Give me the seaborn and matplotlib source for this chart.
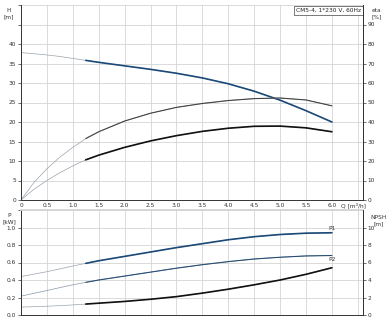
import matplotlib
matplotlib.use("Agg")
import matplotlib.pyplot as plt
import seaborn as sns
import pandas as pd
import numpy as np

# ---- data ----
Q = [0, 0.25, 0.5, 0.75, 1.0, 1.25, 1.5, 2.0, 2.5, 3.0, 3.5, 4.0, 4.5, 5.0, 5.5, 6.0]
H = [37.8, 37.5, 37.2, 36.8, 36.3, 35.8, 35.3, 34.4, 33.5, 32.5, 31.3, 29.8, 27.9, 25.6, 22.9, 20.0]
eta_pump = [0, 9, 16, 22, 27, 31.5, 35, 40.5, 44.5, 47.5, 49.5, 51, 52, 52.3, 51.3, 48.3]
eta_total = [0, 5.5, 10, 14, 17.5, 20.6, 23, 27, 30.3, 33, 35.2, 36.8, 37.8, 37.9, 37, 35]
P1 = [0.44, 0.467, 0.495, 0.527, 0.56, 0.59, 0.62, 0.67, 0.72, 0.77, 0.815, 0.86, 0.895, 0.92, 0.935, 0.94]
P2 = [0.215, 0.248, 0.28, 0.313, 0.345, 0.373, 0.4, 0.445, 0.49, 0.535, 0.575, 0.61, 0.64, 0.66, 0.675, 0.68]
NPSH = [0.9, 0.95, 1.0, 1.07, 1.15, 1.25, 1.35, 1.55, 1.8, 2.1, 2.5, 2.95, 3.45, 4.0, 4.65, 5.4]
q_start = 1.25
x_ticks = [0, 0.5, 1.0, 1.5, 2.0, 2.5, 3.0, 3.5, 4.0, 4.5, 5.0, 5.5, 6.0]
x_tick_labels = ["0", "0.5", "1.0", "1.5", "2.0", "2.5", "3.0", "3.5", "4.0", "4.5", "5.0", "5.5", "6.0"]
title_text = "CM5-4, 1*230 V, 60Hz"

sns.set_theme(style="white")
plt.rcParams['font.family'] = ['DejaVu Sans']
FS = 4.2

df = pd.DataFrame({"Q": Q, "H": H, "eta_h": np.array(eta_pump) / 2.0,
                   "etat_h": np.array(eta_total) / 2.0, "P1": P1, "P2": P2,
                   "NPSH_p": np.array(NPSH) / 10.0})
op = df[df["Q"] >= q_start]

fig = plt.figure(figsize=(3.86, 3.2), dpi=100)
ax1 = fig.add_axes([21/386, 1-200/320, (363-21)/386, 195/320])
ax2 = fig.add_axes([21/386, 5/320, (363-21)/386, 105/320])

GRID = "#d4d4d4"
THIN = "#9aa3ad"
BLUE = "#1b4a78"
DARK = "#111111"

for ax in (ax1, ax2):
    ax.set_xlim(0, 6.6)
    ax.set_xticks(list(x_ticks) + [6.5])
    ax.grid(True, color=GRID, lw=0.6)
    ax.set_axisbelow(True)
    for s in ["left", "right", "bottom"]:
        ax.spines[s].set_color("#333333")
        ax.spines[s].set_linewidth(0.7)
    ax.spines["top"].set_visible(False)
    ax.tick_params(axis="both", labelsize=FS, length=2, width=0.5, pad=1.5, colors="#333333")

# top panel
sns.lineplot(data=df, x="Q", y="H", ax=ax1, color=THIN, lw=0.5)
sns.lineplot(data=op, x="Q", y="H", ax=ax1, color=BLUE, lw=1.2)
sns.lineplot(data=df, x="Q", y="eta_h", ax=ax1, color=THIN, lw=0.5)
sns.lineplot(data=op, x="Q", y="eta_h", ax=ax1, color="#444444", lw=0.8)
sns.lineplot(data=df, x="Q", y="etat_h", ax=ax1, color=THIN, lw=0.5)
sns.lineplot(data=op, x="Q", y="etat_h", ax=ax1, color=DARK, lw=1.2)
ax1.set_ylim(0, 50)
ax1.set_yticks(range(0, 55, 5))
ax1.set_yticklabels([str(v) if v <= 40 else "" for v in range(0, 55, 5)])
ax1.set_xticklabels(x_tick_labels + [""])
ax1.tick_params(axis="x", length=0, pad=2)
ax1.set_xlabel(""); ax1.set_ylabel("")
for t in ax1.get_yticklines()[-4:]:
    t.set_visible(False)

r1 = ax1.twinx()
r1.set_ylim(0, 100)
r1.set_yticks(range(0, 100, 10))
r1.tick_params(axis="y", labelsize=FS, length=2, width=0.5, pad=1.5, colors="#333333")
for s in r1.spines.values():
    s.set_visible(False)
r1.spines["right"].set_visible(True)
r1.spines["right"].set_color("#333333")
r1.spines["right"].set_linewidth(0.7)
r1.grid(False)

ax1.text(-0.035, 0.985, "H\n[m]", transform=ax1.transAxes, fontsize=FS, ha="center", va="top", color="#333333", linespacing=1.3)
r1.text(1.04, 0.985, "eta\n[%]", transform=r1.transAxes, fontsize=FS, ha="center", va="top", color="#333333", linespacing=1.3)
ax1.text(0.995, 0.985, title_text, transform=ax1.transAxes, fontsize=FS, ha="right", va="top", color="#222222",
         bbox=dict(boxstyle="square,pad=0.3", fc="white", ec="#444444", lw=0.5))
fig.text(341/386, 1-203/320, "Q [m³/h]", fontsize=FS, ha="left", va="top", color="#333333", zorder=10)

# bottom panel
sns.lineplot(data=df, x="Q", y="P1", ax=ax2, color=THIN, lw=0.5)
sns.lineplot(data=op, x="Q", y="P1", ax=ax2, color=BLUE, lw=1.2)
sns.lineplot(data=df, x="Q", y="P2", ax=ax2, color="#8797aa", lw=0.5)
sns.lineplot(data=op, x="Q", y="P2", ax=ax2, color="#2a4f75", lw=0.8)
sns.lineplot(data=df, x="Q", y="NPSH_p", ax=ax2, color=THIN, lw=0.5)
sns.lineplot(data=op, x="Q", y="NPSH_p", ax=ax2, color=DARK, lw=1.2)
ax2.set_ylim(0, 1.2)
ax2.set_yticks([0, 0.2, 0.4, 0.6, 0.8, 1.0, 1.2])
ax2.set_yticklabels(["0.0", "0.2", "0.4", "0.6", "0.8", "1.0", ""])
ax2.set_xticklabels([])
ax2.tick_params(axis="x", length=0)
ax2.spines["top"].set_visible(True)
ax2.spines["top"].set_color(GRID)
ax2.set_xlabel(""); ax2.set_ylabel("")
ax2.get_yticklines()[-2].set_visible(False)

r2 = ax2.twinx()
r2.set_ylim(0, 12)
r2.set_yticks([0, 2, 4, 6, 8, 10])
r2.tick_params(axis="y", labelsize=FS, length=2, width=0.5, pad=1.5, colors="#333333")
for s in r2.spines.values():
    s.set_visible(False)
r2.spines["right"].set_visible(True)
r2.spines["right"].set_color("#333333")
r2.spines["right"].set_linewidth(0.7)
r2.grid(False)

ax2.text(-0.035, 0.97, "P\n[kW]", transform=ax2.transAxes, fontsize=FS, ha="center", va="top", color="#333333", linespacing=1.3)
r2.text(1.045, 0.95, "NPSH\n[m]", transform=r2.transAxes, fontsize=FS, ha="center", va="top", color="#333333", linespacing=1.3)
ax2.text(5.93, P1[-1] + 0.02, "P1", fontsize=FS, ha="left", va="bottom", color="#333333")
ax2.text(5.93, P2[-1] - 0.02, "P2", fontsize=FS, ha="left", va="top", color="#333333")

for ax in (ax1, ax2, r1, r2):
    leg = ax.get_legend()
    if leg is not None:
        leg.remove()

fig.savefig("out.png", dpi=100)
